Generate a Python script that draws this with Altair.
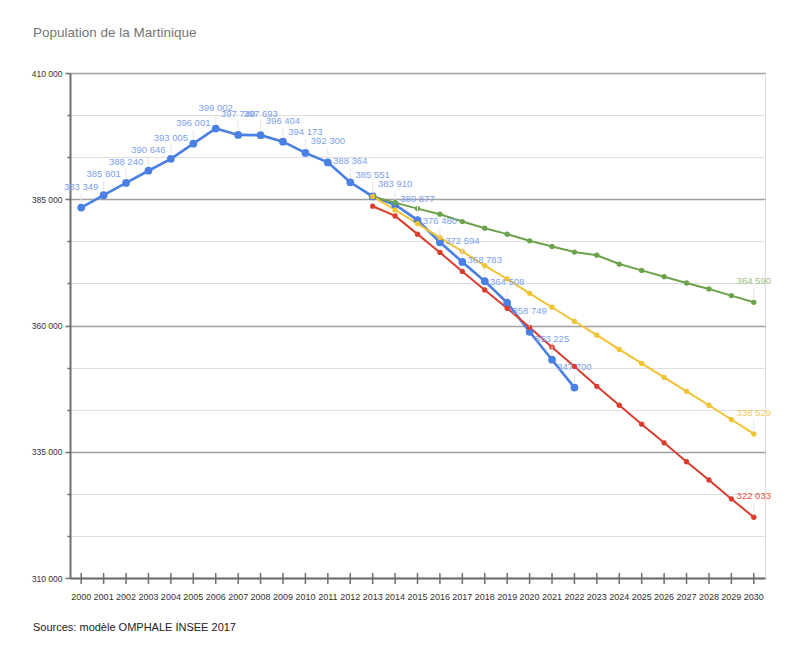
import altair as alt
import pandas as pd

TITLE = "Population de la Martinique"
SOURCE = "Sources: modèle OMPHALE INSEE 2017"

years_obs = list(range(2000, 2023))
estimation = [383349, 385801, 388240, 390646, 393005, 396001, 399002, 397740,
              397693, 396404, 394173, 392300, 388364, 385551, 383910, 380877,
              376480, 372594, 368783, 364508, 358749, 353225, 347700]

years_proj = list(range(2013, 2031))
scen_haut = [385551, 384330, 383145, 382040, 380580, 379270, 378090, 376770, 375645,
             374550, 373920, 372170, 370910, 369670, 368420, 367240, 365920, 364590]
scen_central = [385551, 382890, 380190, 377420, 374660, 371840, 369210, 366370, 363610,
                360840, 358080, 355260, 352500, 349730, 346970, 344210, 341380, 338529]
scen_bas = [383620, 381700, 378090, 374460, 370710, 367040, 363410, 359660, 355710,
            351900, 347960, 344210, 340460, 336770, 333020, 329410, 325660, 322033]

year_ticks = list(range(2000, 2031))
y_ticks = [round(310000 + i * 25000 / 3, 3) for i in range(13)]

series_names = ["Estimation", "Scénario haut", "Scénario central", "Scénario bas"]
line_colors = ["#4a7fe3", "#6da24c", "#f1c232", "#dc3c2e"]
label_colors = ["#7d9fee", "#9cc083", "#f0cb5a", "#e0544a"]

FONT = "Liberation Sans"

def fmt(v):
    return f"{v:,}".replace(",", " ")

rows = []
for name, yrs, vals in [
    (series_names[0], years_obs, estimation),
    (series_names[1], years_proj, scen_haut),
    (series_names[2], years_proj, scen_central),
    (series_names[3], years_proj, scen_bas),
]:
    for i, (yr, v) in enumerate(zip(yrs, vals)):
        show = name == series_names[0] or i == len(vals) - 1
        rows.append({"serie": name, "annee": yr, "pop": v,
                     "label": fmt(v) if show else "", "show": show})
df = pd.DataFrame(rows)
lab_df = df[df["show"]].copy()
lab_df["lcolor"] = lab_df["serie"].map(dict(zip(series_names, label_colors)))

W, H = 695, 505

x_scale = alt.Scale(domain=[1999.5, 2030.5], nice=False, zero=False)
y_scale = alt.Scale(domain=[310000, 410000], nice=False, zero=False)
color_scale = alt.Scale(domain=series_names, range=line_colors)

major_test = "((datum.value - 310000) % 25000) < 1 || ((datum.value - 310000) % 25000) > 24999"

x_enc = alt.X("annee:Q", scale=x_scale, axis=alt.Axis(
    values=year_ticks, title=None, grid=False, ticks=False, labels=False,
    domainColor="#6e6e6e", domainWidth=2))
y_enc = alt.Y("pop:Q", scale=y_scale, axis=alt.Axis(
    values=y_ticks, title=None,
    labelExpr="(" + major_test + ") ? replace(format(round(datum.value), ','), ',', ' ') : ''",
    labelFont=FONT, labelFontSize=8.5, labelColor="#333333", labelPadding=3,
    labelOverlap=False,
    tickColor="#6e6e6e",
    tickSize={"condition": {"test": major_test, "value": 5}, "value": 3},
    tickWidth=1.5,
    gridColor={"condition": {"test": major_test, "value": "#a0a0a0"}, "value": "#dedede"},
    gridWidth={"condition": {"test": major_test, "value": 1.6}, "value": 1},
    domainColor="#6e6e6e", domainWidth=2))

base = alt.Chart(df)

lines = base.mark_line().encode(
    x=x_enc, y=y_enc,
    color=alt.Color("serie:N", scale=color_scale, legend=None),
    strokeWidth=alt.condition(alt.datum.serie == series_names[0], alt.value(2.6), alt.value(2)),
    detail="serie:N",
)
points = base.mark_point(filled=True, opacity=1).encode(
    x="annee:Q", y="pop:Q",
    color=alt.Color("serie:N", scale=color_scale, legend=None),
    size=alt.condition(alt.datum.serie == series_names[0], alt.value(60), alt.value(28)),
)

leaders = alt.Chart(lab_df).mark_rule(color="#e4e4e4", strokeWidth=1, yOffset=-14, y2Offset=-5).encode(
    x="annee:Q", y="pop:Q", y2="pop:Q")

labels = alt.Chart(lab_df).mark_text(font=FONT, fontSize=9.5, dy=-18, baseline="alphabetic",
                                     align="center").encode(
    x="annee:Q", y="pop:Q", text="label:N",
    color=alt.Color("lcolor:N", scale=None))

tick_df = pd.DataFrame({"annee": year_ticks, "txt": [str(y) for y in year_ticks]})
xticks = alt.Chart(tick_df).mark_rule(color="#6e6e6e", strokeWidth=1.5).encode(
    x="annee:Q", y=alt.value(H - 5), y2=alt.value(H + 6))
xlabels = alt.Chart(tick_df).mark_text(font=FONT, fontSize=9, color="#333333",
                                       align="center", baseline="middle").encode(
    x="annee:Q", y=alt.value(H + 19), text="txt:N")

title_df = pd.DataFrame({"t": [TITLE]})
title = alt.Chart(title_df).mark_text(font=FONT, fontSize=13.5, color="#757575",
                                      align="left", baseline="alphabetic").encode(
    x=alt.value(-37), y=alt.value(-36), text="t:N")
src_df = pd.DataFrame({"t": [SOURCE]})
source = alt.Chart(src_df).mark_text(font=FONT, fontSize=11, color="#222222",
                                     align="left", baseline="middle").encode(
    x=alt.value(-37), y=alt.value(H + 50), text="t:N")

chart = alt.layer(lines, points, leaders, labels, xticks, xlabels, title, source).properties(
    width=W, height=H,
    autosize=alt.AutoSizeParams(type="none"),
    padding={"left": 62, "top": 65, "right": 27, "bottom": 62},
).configure_view(stroke=None).configure(background="white")

chart.save("out.html", embed_options={"renderer": "svg", "actions": False})
